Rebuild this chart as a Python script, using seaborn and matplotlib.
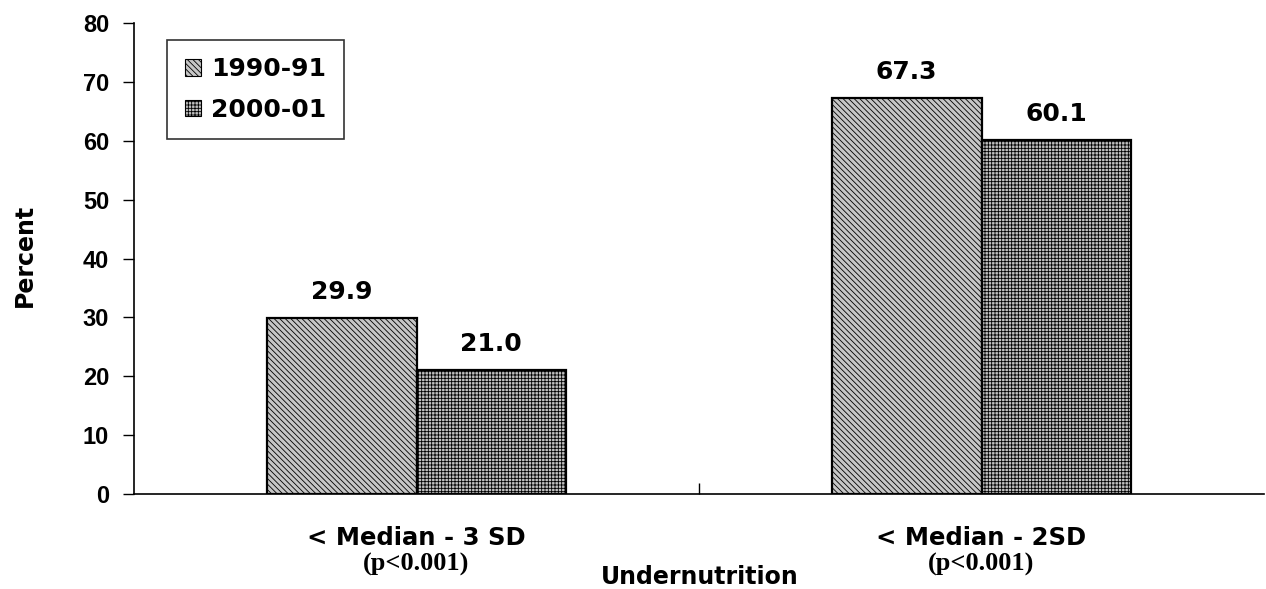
import matplotlib
matplotlib.use("Agg")
import matplotlib.pyplot as plt
from matplotlib.patches import Patch
from matplotlib.font_manager import FontProperties
import seaborn as sns
import pandas as pd

# Données du graphique
categories = ["< Median - 3 SD", "< Median - 2SD"]
periods = ["1990-91", "2000-01"]
values_1990 = [29.9, 67.3]
values_2000 = [21.0, 60.1]
pvalues = ["(p<0.001)", "(p<0.001)"]
yticks = [0, 10, 20, 30, 40, 50, 60, 70, 80]

df = pd.DataFrame({
    "category": categories * 2,
    "period": [periods[0]] * 2 + [periods[1]] * 2,
    "value": values_1990 + values_2000,
})

sns.set_style("white")
plt.rcParams["font.family"] = ["DejaVu Sans"]
plt.rcParams["text.color"] = "black"
plt.rcParams["axes.labelcolor"] = "black"
plt.rcParams["xtick.color"] = "black"
plt.rcParams["ytick.color"] = "black"
plt.rcParams["hatch.linewidth"] = 0.6
plt.rcParams["hatch.color"] = "#2a2a2a"

W, H = 1266, 589
fig = plt.figure(figsize=(W / 100, H / 100), dpi=100)
ax = fig.add_axes([134 / W, 1 - 494 / H, 1130 / W, 471 / H])

colors = ["#c6c6c6", "#c0c0c0"]
hatches = ["\\" * 6, "+" * 5]

sns.barplot(data=df, x="category", y="value", hue="period", order=categories,
            hue_order=periods, palette=colors, width=0.53, saturation=1,
            edgecolor="black", linewidth=1.6, ax=ax, legend=False)

for container, h in zip(ax.containers, hatches):
    for bar in container:
        bar.set_hatch(h)
    ax.bar_label(container, fmt="%.1f", padding=10, fontsize=18, fontweight="bold")

ax.set_xlim(-0.5, 1.5)
ax.set_ylim(0, 80)
ax.set_yticks(yticks)
ax.set_yticklabels([str(v) for v in yticks],
                   fontproperties=FontProperties(family="Liberation Sans", weight="bold", size=17))
ax.tick_params(axis="y", length=8, width=1, direction="out", left=True, pad=10)

ax.set_xticks([0, 1])
ax.set_xticklabels(categories, fontsize=17.5, fontweight="bold")
ax.tick_params(axis="x", length=0, pad=23)
ax.set_xticks([0.5], minor=True)
ax.tick_params(axis="x", which="minor", length=8, width=1, direction="in", bottom=True)

for i, p in enumerate(pvalues):
    ax.text(i, -0.15, p, transform=ax.get_xaxis_transform(), ha="center", va="center",
            fontproperties=FontProperties(family="Liberation Serif", weight="bold", size=19))

ax.set_xlabel("")
ax.set_ylabel("")
fig.text(700 / W, 1 - 577 / H, "Undernutrition", ha="center", va="center",
         fontsize=17, fontweight="bold")
fig.text(25 / W, 1 - 255 / H, "Percent", ha="center", va="center", rotation=90,
         fontsize=17, fontweight="bold")

for s in ["top", "right"]:
    ax.spines[s].set_visible(False)
for s in ["left", "bottom"]:
    ax.spines[s].set_color("black")
    ax.spines[s].set_linewidth(1.2)

handles = [Patch(facecolor=c, hatch=h, edgecolor="black", linewidth=0.8, label=lab)
           for c, h, lab in zip(colors, hatches, periods)]
leg = ax.legend(handles=handles, loc="upper left", bbox_to_anchor=(33 / 1130, 1 - 17 / 471),
                fontsize=18, frameon=True, fancybox=False, edgecolor="black",
                handlelength=0.65, handleheight=0.65, handletextpad=0.4,
                borderpad=0.7, labelspacing=0.65, borderaxespad=0)
leg.get_frame().set_linewidth(1.2)
for t in leg.get_texts():
    t.set_fontweight("bold")

fig.savefig("out.png", dpi=100)
